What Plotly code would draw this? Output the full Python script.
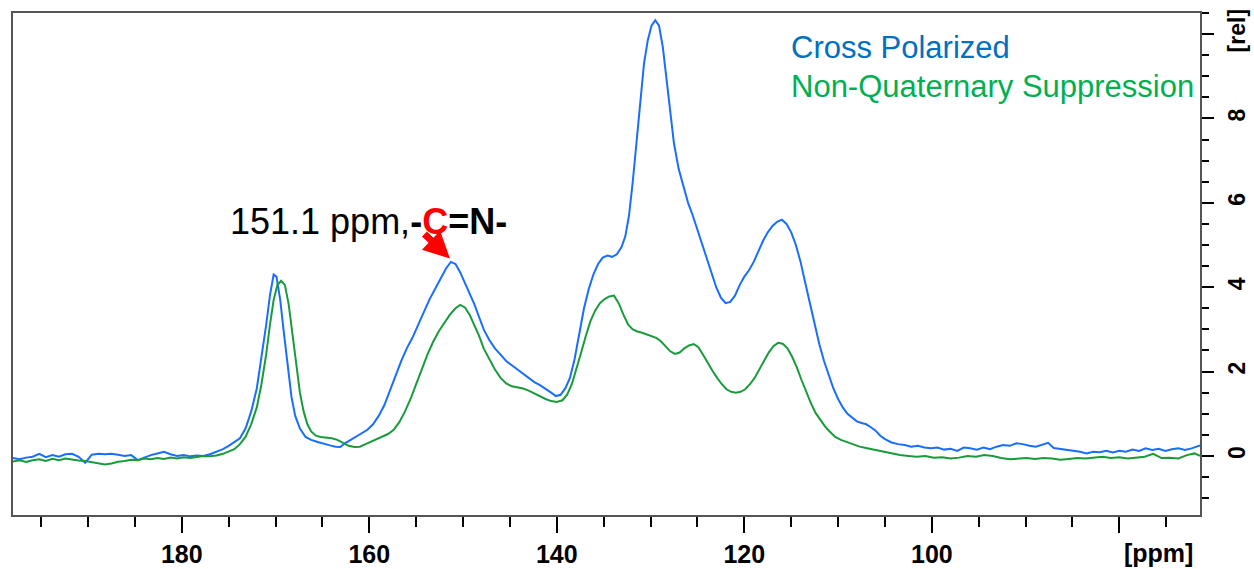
import plotly.graph_objects as go

# ---- data ----
cp_ppm = [198.0,197.3,196.6,195.9,195.2,194.5,193.8,193.1,192.4,191.7,191.0,190.3,189.6,188.9,188.2,187.5,186.8,186.1,185.4,184.7,
          184.0,183.3,182.6,181.9,181.2,180.5,179.8,179.1,178.4,177.7,177.0,176.3,175.6,175.0,174.4,173.8,173.2,172.6,172.0,171.5,
          171.0,170.6,170.2,169.9,169.5,169.1,168.7,168.3,167.9,167.4,166.8,166.2,165.5,164.8,164.2,163.6,163.1,162.6,162.0,161.4,
          160.8,160.2,159.6,159.0,158.4,157.8,157.2,156.6,156.0,155.4,154.8,154.2,153.6,153.0,152.4,151.8,151.3,150.8,150.3,149.8,
          149.3,148.8,148.3,147.8,147.2,146.6,146.0,145.4,144.8,144.2,143.6,143.0,142.4,141.8,141.2,140.6,140.1,139.6,139.1,138.6,
          138.1,137.6,137.1,136.6,136.1,135.6,135.1,134.6,134.1,133.6,133.1,132.7,132.3,131.9,131.5,131.1,130.7,130.3,129.9,129.5,
          129.1,128.7,128.3,127.9,127.5,127.0,126.5,126.0,125.5,125.0,124.5,124.0,123.5,123.0,122.5,122.0,121.5,121.0,120.5,120.0,
          119.5,119.0,118.5,118.0,117.5,117.0,116.5,116.0,115.5,115.0,114.5,114.0,113.5,113.0,112.5,112.0,111.5,111.0,110.5,110.0,
          109.5,109.0,108.5,108.0,107.5,107.0,106.5,106.0,105.5,105.0,104.3,103.6,102.9,102.2,101.5,100.8,100.1,99.4,98.7,98.0,
          97.3,96.6,95.9,95.2,94.5,93.8,93.1,92.4,91.7,91.0,90.3,89.6,88.9,88.2,87.6,87.0,86.4,85.6,84.9,84.2,
          83.5,82.8,82.1,81.4,80.7,80.0,79.3,78.6,77.9,77.2,76.5,75.8,75.1,74.4,73.7,73.0,72.3,71.4]
cp_val = [-0.05,-0.08,-0.04,-0.02,0.05,-0.03,0.02,-0.02,0.04,0.05,-0.02,-0.16,0.03,0.05,0.04,0.05,0.03,0.00,0.02,-0.10,
          -0.04,0.02,0.06,0.10,0.04,0.00,0.02,-0.01,0.01,0.00,0.04,0.10,0.16,0.24,0.32,0.42,0.65,1.05,1.60,2.30,
          3.10,3.80,4.30,4.25,3.70,2.90,2.10,1.40,0.95,0.65,0.45,0.38,0.33,0.28,0.25,0.22,0.21,0.30,0.38,0.48,
          0.55,0.62,0.75,0.95,1.20,1.55,1.90,2.25,2.55,2.80,3.10,3.40,3.70,3.95,4.20,4.45,4.60,4.55,4.35,4.10,
          3.85,3.60,3.30,3.00,2.75,2.55,2.40,2.25,2.15,2.05,1.95,1.85,1.75,1.68,1.60,1.50,1.42,1.45,1.60,1.85,
          2.30,2.90,3.50,3.95,4.30,4.55,4.70,4.75,4.72,4.78,4.95,5.20,5.70,6.50,7.50,8.50,9.30,9.85,10.20,10.33,
          10.20,9.70,8.90,8.10,7.40,6.80,6.40,6.00,5.70,5.35,5.00,4.65,4.30,4.00,3.75,3.62,3.65,3.80,4.05,4.25,
          4.40,4.60,4.85,5.10,5.30,5.45,5.55,5.60,5.50,5.30,5.00,4.60,4.10,3.60,3.10,2.65,2.25,1.90,1.60,1.35,
          1.15,1.00,0.90,0.82,0.78,0.75,0.68,0.60,0.48,0.40,0.32,0.28,0.26,0.22,0.24,0.20,0.18,0.20,0.15,0.17,
          0.12,0.20,0.18,0.15,0.20,0.16,0.22,0.26,0.24,0.30,0.28,0.24,0.22,0.26,0.31,0.19,0.17,0.15,0.12,0.10,
          0.06,0.10,0.09,0.12,0.08,0.12,0.10,0.15,0.12,0.18,0.14,0.17,0.12,0.16,0.18,0.14,0.18,0.25]

nq_ppm = [198.0,197.3,196.6,195.9,195.2,194.5,193.8,193.1,192.4,191.7,191.0,190.3,189.6,188.9,188.2,187.5,186.8,186.1,185.4,184.7,
          184.0,183.3,182.6,181.9,181.2,180.5,179.8,179.1,178.4,177.7,177.0,176.3,175.6,175.0,174.4,173.8,173.2,172.6,172.0,171.5,
          171.0,170.6,170.2,169.8,169.4,169.0,168.6,168.2,167.8,167.4,167.0,166.6,166.2,165.7,165.2,164.6,164.0,163.4,162.8,162.2,
          161.6,161.0,160.4,159.8,159.2,158.6,158.0,157.4,156.8,156.2,155.6,155.0,154.4,153.8,153.2,152.6,152.0,151.4,150.8,150.3,
          149.8,149.3,148.8,148.3,147.8,147.2,146.6,146.0,145.4,144.8,144.2,143.6,143.0,142.4,141.8,141.2,140.6,140.0,139.4,138.9,
          138.4,137.9,137.4,136.9,136.4,135.9,135.4,134.9,134.4,133.9,133.4,132.9,132.4,131.9,131.4,130.9,130.4,129.9,129.4,128.9,
          128.4,127.9,127.4,126.9,126.4,125.9,125.4,124.9,124.4,123.9,123.4,122.9,122.4,121.9,121.4,120.9,120.4,119.9,119.4,118.9,
          118.4,117.9,117.4,116.9,116.4,115.9,115.4,114.9,114.4,113.9,113.4,112.9,112.4,111.9,111.4,110.9,110.3,109.7,109.0,108.4,
          107.7,106.9,106.1,105.2,104.3,103.4,102.5,101.6,100.7,99.8,98.9,98.0,97.1,96.2,95.3,94.4,93.5,92.6,91.7,90.8,
          89.9,89.0,88.1,87.2,86.3,85.4,84.5,83.6,82.7,81.8,80.9,80.0,79.1,78.2,77.3,76.4,75.5,74.6,73.7,72.8,
          72.0,71.4]
nq_val = [-0.13,-0.10,-0.14,-0.10,-0.08,-0.12,-0.07,-0.10,-0.06,-0.09,-0.11,-0.12,-0.15,-0.18,-0.20,-0.18,-0.14,-0.12,-0.09,-0.10,
          -0.06,-0.08,-0.05,-0.07,-0.04,-0.06,-0.03,-0.05,-0.02,0.00,-0.01,0.01,0.05,0.10,0.16,0.28,0.45,0.75,1.15,1.70,
          2.40,3.10,3.70,4.05,4.15,4.05,3.60,2.90,2.15,1.50,1.05,0.75,0.58,0.48,0.45,0.43,0.42,0.38,0.30,0.24,
          0.21,0.22,0.28,0.34,0.40,0.46,0.52,0.62,0.80,1.05,1.35,1.70,2.05,2.40,2.70,2.95,3.15,3.35,3.50,3.58,
          3.52,3.35,3.10,2.85,2.55,2.30,2.05,1.85,1.72,1.65,1.62,1.60,1.55,1.48,1.42,1.35,1.30,1.28,1.32,1.45,
          1.70,2.05,2.45,2.85,3.20,3.45,3.62,3.72,3.78,3.80,3.62,3.35,3.12,3.00,2.95,2.92,2.88,2.85,2.80,2.72,
          2.60,2.48,2.42,2.45,2.55,2.62,2.65,2.58,2.40,2.20,2.02,1.85,1.70,1.58,1.52,1.50,1.52,1.58,1.70,1.85,
          2.05,2.25,2.45,2.60,2.68,2.66,2.55,2.35,2.10,1.80,1.50,1.25,1.02,0.85,0.70,0.58,0.45,0.38,0.32,0.28,
          0.22,0.18,0.14,0.10,0.06,0.02,0.00,-0.02,0.00,-0.04,-0.03,-0.06,-0.04,0.00,-0.02,0.02,0.00,-0.05,-0.08,-0.06,
          -0.05,-0.07,-0.05,-0.06,-0.09,-0.07,-0.05,-0.06,-0.04,-0.02,-0.05,-0.03,-0.06,-0.04,-0.02,0.05,-0.05,-0.04,-0.06,0.02,
          0.06,0.00]

x_tick_vals = [180, 160, 140, 120, 100, 80]
x_tick_text = ["<b>180</b>", "<b>160</b>", "<b>140</b>", "<b>120</b>", "<b>100</b>", ""]
y_tick_vals = [0, 2, 4, 6, 8, 10]
y_tick_text = ["<b>0</b>", "<b>2</b>", "<b>4</b>", "<b>6</b>", "<b>8</b>", "<b>[rel]</b>"]

FONT = "Arial, Liberation Sans, sans-serif"

fig = go.Figure()
fig.add_trace(go.Scatter(x=cp_ppm, y=cp_val, mode="lines", name="Cross Polarized",
                         line=dict(color="rgb(25,110,255)", width=2)))
fig.add_trace(go.Scatter(x=nq_ppm, y=nq_val, mode="lines", name="Non-Quaternary Suppression",
                         line=dict(color="rgb(25,155,60)", width=2)))

fig.update_layout(
    width=1254, height=569,
    margin=dict(l=13, r=54, t=13, b=54),
    paper_bgcolor="white", plot_bgcolor="white",
    showlegend=False,
    font=dict(family=FONT, color="black"),
)
fig.update_xaxes(
    range=[198.0, 71.4], tickvals=x_tick_vals, ticktext=x_tick_text,
    ticks="outside", ticklen=16, tickwidth=2, tickcolor="black",
    minor=dict(dtick=5, ticks="outside", ticklen=10, tickwidth=2, tickcolor="black"),
    showline=True, linecolor="#555555", linewidth=2, mirror=True,
    showgrid=False, zeroline=False, automargin=False,
    tickfont=dict(size=25, family=FONT, color="black"),
)
fig.update_yaxes(
    range=[-1.4, 10.5], side="right", tickvals=y_tick_vals, ticktext=y_tick_text,
    tickangle=-90,
    ticks="outside", ticklen=12, tickwidth=2, tickcolor="black",
    minor=dict(dtick=0.5, ticks="outside", ticklen=7, tickwidth=2, tickcolor="black"),
    showline=True, linecolor="#555555", linewidth=2, mirror=True,
    showgrid=False, zeroline=False, automargin=False,
    tickfont=dict(size=23, family=FONT, color="black"),
    ticklabelstandoff=3,
)

# axis unit label for x
fig.add_annotation(x=80, y=-0.0757, xref="x", yref="paper", text="<b>[ppm]</b>",
                   showarrow=False, xanchor="left", yanchor="middle", xshift=3,
                   font=dict(size=25, family=FONT, color="black"))

# legend as coloured text
fig.add_annotation(x=0.654, y=0.932, xref="paper", yref="paper", text="Cross Polarized",
                   showarrow=False, xanchor="left", yanchor="middle",
                   font=dict(size=31, family=FONT, color="#0070C0"))
fig.add_annotation(x=0.654, y=0.853, xref="paper", yref="paper", text="Non-Quaternary Suppression",
                   showarrow=False, xanchor="left", yanchor="middle",
                   font=dict(size=31, family=FONT, color="#00B050"))

# peak label
fig.add_annotation(x=175.1, y=5.55, xref="x", yref="y",
                   text="151.1 ppm,<b>-<span style='color:#FF0000'>C</span>=N-</b>",
                   showarrow=False, xanchor="left", yanchor="middle",
                   font=dict(size=36, family=FONT, color="black"))
# red arrow
fig.add_annotation(x=151.4, y=4.68, xref="x", yref="y", text="",
                   showarrow=True, arrowhead=2, arrowsize=0.75, arrowwidth=7,
                   arrowcolor="#FF0000", ax=-27, ay=-26)

fig.write_html("out.html")
